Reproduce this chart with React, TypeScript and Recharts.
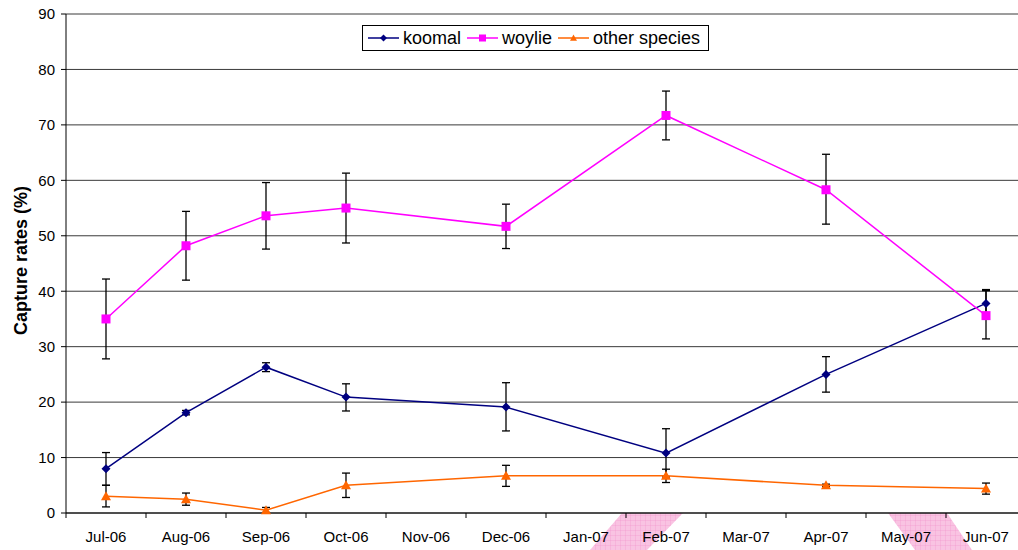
import React from "react";
import { LineChart, Line, XAxis, YAxis, CartesianGrid, ErrorBar, Legend } from "recharts";

// ─── Data ─────────────────────────────────────────────────────────────────────

const months = [
  "Jul-06", "Aug-06", "Sep-06", "Oct-06", "Nov-06", "Dec-06",
  "Jan-07", "Feb-07", "Mar-07", "Apr-07", "May-07", "Jun-07",
];

const koomal = [8.0, 18.1, 26.3, 20.9, null, 19.1, null, 10.8, null, 25.0, null, 37.8];
const koomalErr = [[3.0, 2.9], [0.4, 0.4], [0.8, 0.8], [2.5, 2.4], null, [4.3, 4.4], null, [4.3, 4.4], null, [3.2, 3.2], null, [2.5, 2.5]];

const woylie = [35.0, 48.2, 53.6, 55.0, null, 51.7, null, 71.7, null, 58.3, null, 35.6];
const woylieErr = [[7.2, 7.2], [6.2, 6.2], [6.0, 6.0], [6.3, 6.3], null, [4.0, 4.0], null, [4.4, 4.4], null, [6.2, 6.4], null, [4.2, 4.5]];

const other = [3.0, 2.5, 0.5, 5.0, null, 6.7, null, 6.7, null, 5.0, null, 4.4];
const otherErr = [[1.9, 2.0], [1.1, 1.1], [0.4, 0.5], [2.2, 2.2], null, [1.9, 1.9], null, [1.2, 1.2], null, [0.2, 0.2], null, [1.0, 1.0]];

const yTicks = [0, 10, 20, 30, 40, 50, 60, 70, 80, 90];

const data = months.map((m, i) => ({
  x: i + 0.5,
  month: m,
  koomal: koomal[i],
  koomalErr: koomalErr[i],
  woylie: woylie[i],
  woylieErr: woylieErr[i],
  other: other[i],
  otherErr: otherErr[i],
}));

// band edges (integers) carry tick marks, band centres (halves) carry labels
const xTicks = Array.from({ length: months.length * 2 + 1 }, (_, i) => i / 2);

const FONT = "'Liberation Sans', Arial, sans-serif";
const NAVY = "#000080";
const MAGENTA = "#ff00ff";
const ORANGE = "#ff6600";

// ─── Markers ──────────────────────────────────────────────────────────────────

function Diamond({ cx, cy, color, r = 4.5 }: any) {
  if (cx == null || cy == null) return <g />;
  return <polygon points={`${cx},${cy - r} ${cx + r},${cy} ${cx},${cy + r} ${cx - r},${cy}`} fill={color} />;
}

function Square({ cx, cy, color, r = 4.5 }: any) {
  if (cx == null || cy == null) return <g />;
  return <rect x={cx - r} y={cy - r} width={r * 2} height={r * 2} fill={color} />;
}

function Triangle({ cx, cy, color, r = 5 }: any) {
  if (cx == null || cy == null) return <g />;
  return <polygon points={`${cx},${cy - r} ${cx + r},${cy + r * 0.8} ${cx - r},${cy + r * 0.8}`} fill={color} />;
}

const series = [
  { key: "koomal", name: "koomal", color: NAVY, Shape: Diamond },
  { key: "woylie", name: "woylie", color: MAGENTA, Shape: Square },
  { key: "other", name: "other species", color: ORANGE, Shape: Triangle },
];

// ─── Axis tick / legend ───────────────────────────────────────────────────────

function MonthTick({ x, y, payload }: any) {
  const v = payload.value;
  if (Number.isInteger(v)) {
    return <line x1={x} y1={y} x2={x} y2={y + 5} stroke="#000" strokeWidth={1} />;
  }
  return (
    <text x={x} y={y + 29} textAnchor="middle" fontSize={15} fontFamily={FONT} fill="#000">
      {months[Math.floor(v)]}
    </text>
  );
}

function LegendBox() {
  return (
    <div
      style={{
        border: "1px solid #000",
        background: "#fff",
        height: 24,
        display: "flex",
        alignItems: "center",
        paddingLeft: 5,
        fontFamily: FONT,
        fontSize: 18,
        color: "#000",
        boxSizing: "content-box",
        whiteSpace: "nowrap",
      }}
    >
      {series.map((s) => (
        <div key={s.key} style={{ display: "flex", alignItems: "center", marginRight: 6 }}>
          <svg width={31} height={12} style={{ marginRight: 4 }}>
            <line x1={0} y1={6} x2={31} y2={6} stroke={s.color} strokeWidth={1.5} />
            <s.Shape cx={15.5} cy={6} color={s.color} r={3.5} />
          </svg>
          <span>{s.name}</span>
        </div>
      ))}
    </div>
  );
}

// pink scanner marks under the x axis
function PinkBands() {
  return (
    <svg width={1018} height={550} style={{ position: "absolute", left: 0, top: 0 }}>
      <defs>
        <pattern id="pinkgrid" width={5} height={5} patternUnits="userSpaceOnUse">
          <rect width={5} height={5} fill="#f9c3e2" />
          <path d="M0 0 H5 M0 0 V5" stroke="#f28fc8" strokeWidth={0.6} />
        </pattern>
      </defs>
      <polygon points="622,513 683,513 647,550 590,550" fill="url(#pinkgrid)" />
      <polygon points="888,513 947,513 972,550 915,550" fill="url(#pinkgrid)" />
    </svg>
  );
}

// ─── Chart ────────────────────────────────────────────────────────────────────

export default function App() {
  return (
    <div
      style={{
        position: "fixed",
        left: 0,
        top: 0,
        width: 1018,
        height: 550,
        overflow: "hidden",
        background: "#fff",
      }}
    >
      <PinkBands />
      <div style={{ position: "absolute", left: 0, top: 0 }}>
        <LineChart width={1026} height={550} data={data} margin={{ top: 14, right: 0, bottom: 0, left: 0 }}>
          <CartesianGrid vertical={false} stroke="#3a3a3a" strokeWidth={1} />
          <XAxis
            type="number"
            dataKey="x"
            domain={[0, 12]}
            ticks={xTicks}
            interval={0}
            height={37}
            tickSize={0}
            tickMargin={0}
            tickLine={false}
            tick={<MonthTick />}
            axisLine={{ stroke: "#000", strokeWidth: 1 }}
          />
          <YAxis
            domain={[0, 90]}
            ticks={yTicks}
            interval={0}
            width={66}
            tickSize={5}
            tickMargin={6}
            tick={{ fontSize: 15, fill: "#000", fontFamily: FONT }}
            tickLine={{ stroke: "#000" }}
            axisLine={{ stroke: "#000", strokeWidth: 1 }}
            label={{
              content: ({ viewBox }: any) => {
                const cx = 21;
                const cy = viewBox.y + viewBox.height / 2 - 3;
                return (
                  <text
                    x={cx}
                    y={cy}
                    transform={`rotate(-90 ${cx} ${cy})`}
                    textAnchor="middle"
                    dominantBaseline="central"
                    fontSize={18}
                    fontWeight="bold"
                    fontFamily={FONT}
                    fill="#000"
                  >
                    Capture rates (%)
                  </text>
                );
              },
            }}
          />
          <Legend
            layout="vertical"
            align="center"
            verticalAlign="middle"
            wrapperStyle={{ left: 362, top: 25, width: 347 }}
            content={() => <LegendBox />}
          />
          {series.map((s) => (
            <Line
              key={s.key}
              dataKey={s.key}
              name={s.name}
              stroke={s.color}
              strokeWidth={1.5}
              connectNulls
              isAnimationActive={false}
              dot={(p: any) => <s.Shape key={`${s.key}-${p.index}`} cx={p.cx} cy={p.cy} color={s.color} />}
              activeDot={false}
            >
              <ErrorBar
                dataKey={`${s.key}Err`}
                direction="y"
                width={4}
                stroke="#000"
                strokeWidth={1.3}
                isAnimationActive={false}
              />
            </Line>
          ))}
        </LineChart>
      </div>
    </div>
  );
}
